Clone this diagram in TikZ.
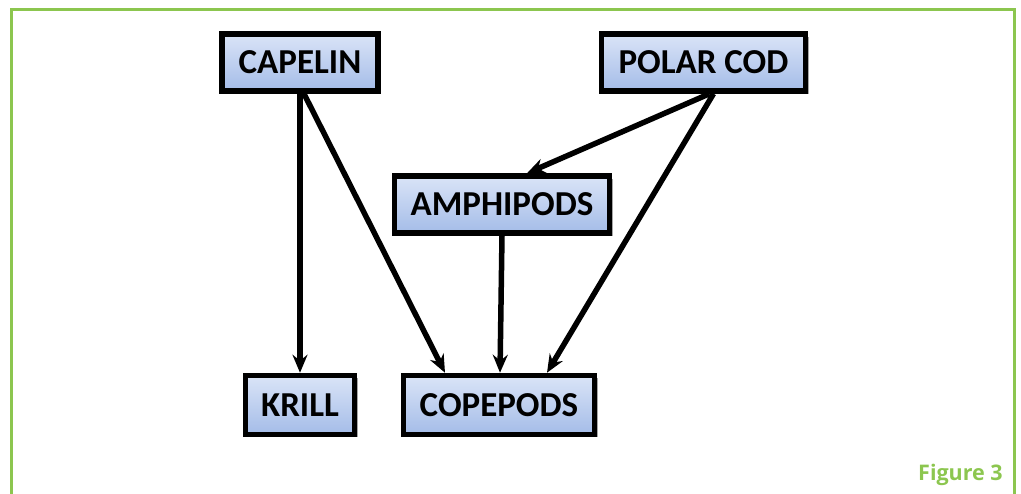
\documentclass[tikz,border=0pt]{standalone}
\usepackage{fontspec}
\setmainfont{Carlito}
\newfontfamily\figfont{Open Sans}
\usetikzlibrary{arrows.meta,shadows,calc}
\definecolor{framegreen}{RGB}{140,198,79}
\definecolor{boxtop}{RGB}{218,228,247}
\definecolor{boxbot}{RGB}{164,188,232}
\begin{document}
\begin{tikzpicture}[x=1pt,y=-1pt,
  species/.style={draw=black, line width=5.5pt, top color=boxtop, bottom color=boxbot,
    font=\fontsize{35}{37}\selectfont\bfseries, inner sep=0pt, minimum height=57pt,
    drop shadow={shadow xshift=3pt, shadow yshift=-3pt, fill=black, opacity=0.35}},
  eats/.style={line width=5.5pt, -{Stealth[length=18pt,width=15pt,inset=6pt]}}
]
\useasboundingbox (0,0) rectangle (1021,494);
\draw[framegreen, line width=3pt] (11.5,494) -- (11.5,9.5) -- (1014,9.5) -- (1014,494);

\node[species, minimum width=156pt] (capelin) at (300,62.5) {CAPELIN};
\node[species, minimum width=204pt] (polarcod) at (703.5,62.5) {POLAR COD};
\node[species, minimum width=215pt] (amphipods) at (502,204.5) {AMPHIPODS};
\node[species, minimum width=109pt, minimum height=59pt] (krill) at (300,405) {KRILL};
\node[species, minimum width=191pt, minimum height=59pt] (copepods) at (499,405) {COPEPODS};

\node[font=\figfont\bfseries\fontsize{21.5}{24}\selectfont, text=framegreen, anchor=base west, inner sep=0pt] (fig) at (918,480) {Figure 3};

\draw[eats] (capelin.south) -- (krill.north);
\draw[eats] ([xshift=4pt]capelin.south) -- ([xshift=-54pt]copepods.north);
\draw[eats] ([xshift=6pt]polarcod.south) -- ([xshift=25pt]amphipods.north);
\draw[eats] ([xshift=10pt]polarcod.south) -- ([xshift=48pt]copepods.north);
\draw[eats] (amphipods.south) -- ([xshift=1pt]copepods.north);
\end{tikzpicture}
\end{document}
